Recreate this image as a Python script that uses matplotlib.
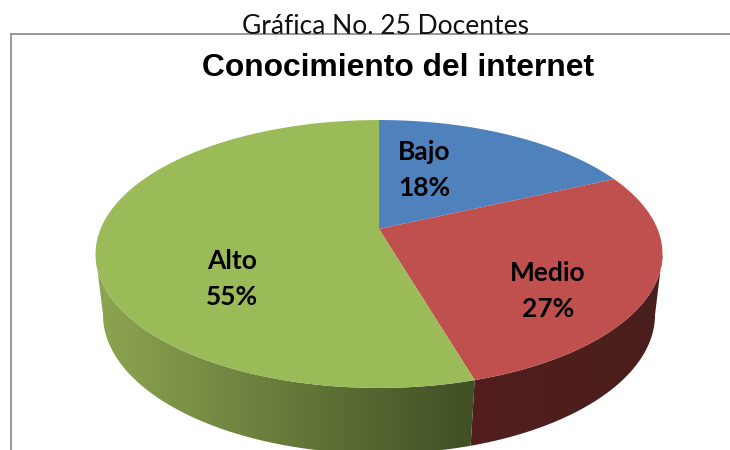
import numpy as np
import matplotlib
matplotlib.use('Agg')
import matplotlib.pyplot as plt
from matplotlib.colors import to_rgb
from matplotlib.patches import Polygon

categorias = ['Bajo', 'Medio', 'Alto']
valores = [18.18, 27.27, 54.55]
etiquetas_pct = ['18%', '27%', '55%']

colores = ['#4f81bd', '#c0504d', '#9bbb59']
# color del lateral, del lado izquierdo al derecho
lateral = [('#3a5a85', '#3a5a85'), ('#521f1e', '#4a1e1c'), ('#8da651', '#3f4e24')]
pos_texto = [(424, 170), (548, 291), (232, 279)]

K_TAPA = 0.1866
K_BASE = 0.17


def proyectar(ang, cx, cy, A, B, k):
    # disco visto en perspectiva, ang medido desde arriba en sentido horario
    u = np.sin(ang)
    v = np.cos(ang)
    w = 1 + k * v
    return cx + A * u / w, cy - B * v / w


def tapa(ang):
    return proyectar(ang, 379, 229, 278.5, 129.3, K_TAPA)


def base(ang):
    return proyectar(ang, 379, 291, 272, 135, K_BASE)


def tramo_visible(a0, a1, k):
    # parte frontal del arco entre los dos puntos de maxima anchura
    der = np.arccos(-k)
    izq = 2 * np.pi - der
    return np.linspace(max(a0, der), min(a1, izq), 300)


fig = plt.figure(figsize=(7.3, 4.5), dpi=100)
ax = fig.add_axes([0, 0, 1, 1])

limites = np.cumsum([0] + valores) / sum(valores) * 2 * np.pi

# laterales con degradado horizontal
for i in range(len(valores)):
    if limites[i + 1] < np.arccos(-K_TAPA):
        continue  # esta porcion queda detras
    xt, yt = tapa(tramo_visible(limites[i], limites[i + 1], K_TAPA))
    xb, yb = base(tramo_visible(limites[i], limites[i + 1], K_BASE))
    borde = np.column_stack([np.r_[xt, xb[::-1]], np.r_[yt, yb[::-1]]])
    x_ini = borde[:, 0].min()
    x_fin = borde[:, 0].max()
    c1 = np.array(to_rgb(lateral[i][0]))
    c2 = np.array(to_rgb(lateral[i][1]))
    t = np.linspace(0, 1, 256)[:, None]
    grad = (c1 + (c2 - c1) * t)[None, :, :]
    im = ax.imshow(grad, extent=[x_ini, x_fin, 460, 100], aspect='auto', zorder=2)
    im.set_clip_path(Polygon(borde, closed=True, transform=ax.transData))

ax.set_xlim(0, 730)
ax.set_ylim(450, 0)
ax.axis('off')

# marco del grafico
ax.plot([730, 11, 11], [34, 34, 450], color='#868686', lw=1.2, solid_joinstyle='miter')

# tapa superior
for i in range(len(valores)):
    angs = np.linspace(limites[i], limites[i + 1], 300)
    xs, ys = tapa(angs)
    ax.fill(np.r_[379, xs], np.r_[229, ys], color=colores[i], lw=0, zorder=3)

for i in range(len(categorias)):
    ax.text(pos_texto[i][0], pos_texto[i][1], categorias[i] + '\n' + etiquetas_pct[i],
            family='Lato', fontweight='bold', fontsize=19, color='black',
            ha='center', va='center', linespacing=1.6, zorder=4)

ax.text(386, 26, 'Gráfica No. 25 Docentes', family='Lato', fontsize=19,
        color='#111111', ha='center', va='center')
ax.text(398.5, 68, 'Conocimiento del internet', family='Liberation Sans',
        fontweight='bold', fontsize=22.9, color='black', ha='center', va='center')

fig.savefig('out.png', dpi=100)
